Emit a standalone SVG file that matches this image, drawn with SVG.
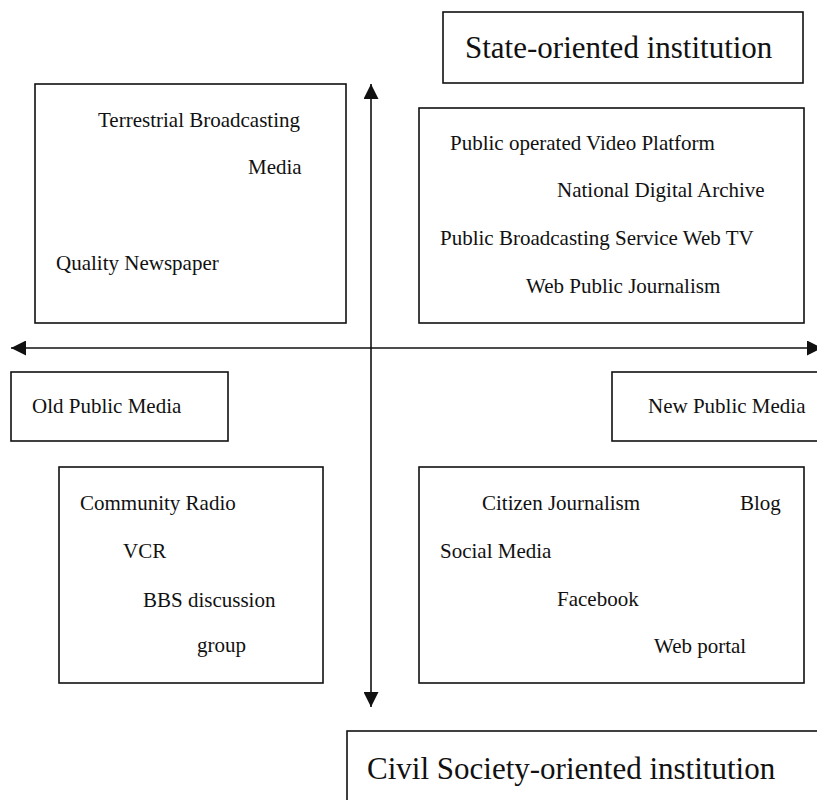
<svg xmlns="http://www.w3.org/2000/svg" width="817" height="800" viewBox="0 0 817 800">
  <style>
    .box { fill: #ffffff; stroke: #111111; stroke-width: 1.6; }
    .lbl { font-family: "Liberation Serif", "Times New Roman", serif; font-size: 21px; fill: #111111; }
    .ttl { font-family: "Liberation Serif", "Times New Roman", serif; font-size: 31px; fill: #111111; }
    .axis { stroke: #111111; stroke-width: 1.6; fill: none; }
  </style>
  <defs>
    <marker id="arrow" viewBox="0 0 10 10" refX="10" refY="5" markerWidth="15" markerHeight="15" markerUnits="userSpaceOnUse" orient="auto">
      <path d="M0,0 L10,5 L0,10 Z" fill="#111111"/>
    </marker>
  </defs>
  <rect width="817" height="800" fill="#ffffff"/>

  <!-- axes: state/civil vertically, old/new horizontally -->
  <g id="connectors">
    <line class="axis" x1="371" y1="460" x2="371" y2="84" marker-end="url(#arrow)"/>
    <line class="axis" x1="371" y1="460" x2="371" y2="707" marker-end="url(#arrow)"/>
    <line class="axis" x1="400" y1="348" x2="11" y2="348" marker-end="url(#arrow)"/>
    <line class="axis" x1="400" y1="348" x2="822" y2="348" marker-end="url(#arrow)"/>
  </g>

  <g id="state-institution">
    <rect class="box" x="443" y="12" width="360" height="71"/>
    <text class="ttl" x="465" y="58">State-oriented institution</text>
  </g>

  <g id="old-state-media">
    <rect class="box" x="35" y="84" width="311" height="239"/>
    <text class="lbl" x="98" y="127">Terrestrial Broadcasting</text>
    <text class="lbl" x="248" y="174">Media</text>
    <text class="lbl" x="56" y="270">Quality Newspaper</text>
  </g>

  <g id="new-state-media">
    <rect class="box" x="419" y="108" width="385" height="215"/>
    <text class="lbl" x="450" y="150">Public operated Video Platform</text>
    <text class="lbl" x="557" y="197">National Digital Archive</text>
    <text class="lbl" x="440" y="245">Public Broadcasting Service Web TV</text>
    <text class="lbl" x="526" y="293">Web Public Journalism</text>
  </g>

  <g id="old-public-media">
    <rect class="box" x="11" y="372" width="217" height="69"/>
    <text class="lbl" x="32" y="413">Old Public Media</text>
  </g>

  <g id="new-public-media">
    <rect class="box" x="612" y="372" width="220" height="69"/>
    <text class="lbl" x="648" y="413">New Public Media</text>
  </g>

  <g id="old-civil-media">
    <rect class="box" x="59" y="467" width="264" height="216"/>
    <text class="lbl" x="80" y="510">Community Radio</text>
    <text class="lbl" x="123" y="558">VCR</text>
    <text class="lbl" x="143" y="607">BBS discussion</text>
    <text class="lbl" x="197" y="652">group</text>
  </g>

  <g id="new-civil-media">
    <rect class="box" x="419" y="467" width="385" height="216"/>
    <text class="lbl" x="482" y="510">Citizen Journalism</text>
    <text class="lbl" x="740" y="510">Blog</text>
    <text class="lbl" x="440" y="558">Social Media</text>
    <text class="lbl" x="557" y="606">Facebook</text>
    <text class="lbl" x="654" y="653">Web portal</text>
  </g>

  <g id="civil-institution">
    <rect class="box" x="347" y="731" width="490" height="90"/>
    <text class="ttl" x="367" y="779">Civil Society-oriented institution</text>
  </g>
</svg>
